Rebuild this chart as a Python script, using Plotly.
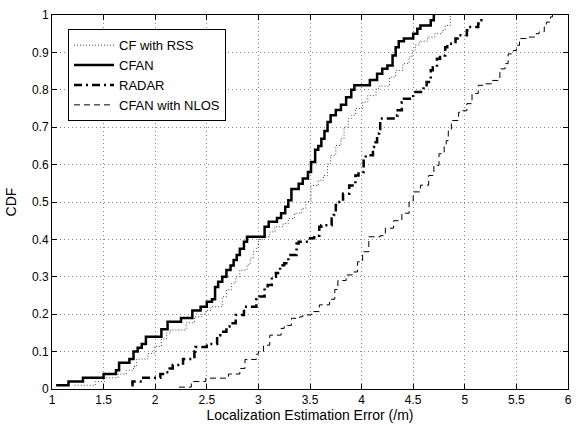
import plotly.graph_objects as go

# CDF step points (x = error in m, y = CDF)
rss_x = [1.22, 1.42, 1.51, 1.64, 1.72, 1.79, 1.82, 1.93, 1.99, 2.06, 2.11, 2.15, 2.30, 2.38,
         2.45, 2.49, 2.54, 2.65, 2.69, 2.74, 2.78, 2.82, 2.89, 2.92, 2.95, 2.98, 3.00, 3.05,
         3.11, 3.16, 3.24, 3.29, 3.35, 3.42, 3.46, 3.51, 3.58, 3.63, 3.67, 3.70, 3.75, 3.80,
         3.83, 3.87, 3.90, 3.94, 4.01, 4.06, 4.14, 4.17, 4.27, 4.33, 4.40, 4.46, 4.49, 4.52,
         4.56, 4.64, 4.71, 4.78, 4.81, 4.86]
rss_y = [0.01, 0.02, 0.03, 0.04, 0.05, 0.06, 0.08, 0.095, 0.114, 0.134, 0.15, 0.158, 0.177, 0.193,
         0.20, 0.21, 0.22, 0.247, 0.265, 0.283, 0.30, 0.318, 0.332, 0.35, 0.367, 0.376, 0.40, 0.407,
         0.42, 0.434, 0.443, 0.456, 0.47, 0.483, 0.501, 0.544, 0.558, 0.571, 0.602, 0.625, 0.651, 0.669,
         0.70, 0.723, 0.732, 0.75, 0.767, 0.785, 0.803, 0.81, 0.834, 0.852, 0.87, 0.888, 0.906, 0.92,
         0.93, 0.941, 0.95, 0.959, 0.972, 1.0]

cfan_x = [1.04, 1.16, 1.30, 1.50, 1.62, 1.65, 1.75, 1.79, 1.83, 1.87, 1.91, 2.06, 2.12, 2.25,
          2.36, 2.44, 2.50, 2.55, 2.58, 2.61, 2.65, 2.69, 2.73, 2.76, 2.79, 2.82, 2.86, 2.89,
          3.06, 3.10, 3.18, 3.22, 3.26, 3.29, 3.32, 3.39, 3.43, 3.48, 3.51, 3.55, 3.58, 3.61,
          3.64, 3.67, 3.70, 3.75, 3.80, 3.85, 3.90, 3.93, 4.08, 4.15, 4.20, 4.25, 4.30, 4.33,
          4.36, 4.41, 4.50, 4.54, 4.57, 4.67, 4.70]
cfan_y = [0.01, 0.02, 0.03, 0.04, 0.05, 0.07, 0.08, 0.10, 0.11, 0.12, 0.14, 0.16, 0.18, 0.19,
          0.21, 0.22, 0.233, 0.24, 0.273, 0.287, 0.30, 0.318, 0.33, 0.345, 0.358, 0.375, 0.394, 0.407,
          0.434, 0.447, 0.457, 0.47, 0.487, 0.505, 0.535, 0.549, 0.563, 0.58, 0.607, 0.64, 0.65, 0.669,
          0.69, 0.714, 0.732, 0.746, 0.76, 0.78, 0.80, 0.812, 0.826, 0.843, 0.856, 0.865, 0.892, 0.914,
          0.93, 0.937, 0.95, 0.963, 0.972, 0.986, 1.0]

radar_x = [1.77, 1.78, 1.87, 2.05, 2.09, 2.14, 2.17, 2.27, 2.38, 2.39, 2.50, 2.60, 2.63, 2.69,
           2.72, 2.78, 2.86, 2.98, 3.01, 3.06, 3.09, 3.13, 3.17, 3.21, 3.25, 3.29, 3.37, 3.39,
           3.50, 3.54, 3.59, 3.61, 3.71, 3.73, 3.75, 3.77, 3.82, 3.88, 3.94, 3.97, 4.02, 4.04,
           4.11, 4.12, 4.15, 4.17, 4.18, 4.33, 4.35, 4.39, 4.41, 4.50, 4.60, 4.63, 4.67, 4.69,
           4.73, 4.76, 4.81, 4.83, 4.91, 4.93, 5.02, 5.04, 5.13, 5.15, 5.16]
radar_y = [0.01, 0.02, 0.03, 0.04, 0.045, 0.055, 0.064, 0.08, 0.10, 0.112, 0.12, 0.144, 0.153, 0.167,
           0.176, 0.198, 0.22, 0.24, 0.247, 0.269, 0.278, 0.30, 0.31, 0.331, 0.336, 0.358, 0.389, 0.394,
           0.403, 0.41, 0.434, 0.438, 0.456, 0.465, 0.492, 0.50, 0.522, 0.544, 0.571, 0.58, 0.616, 0.625,
           0.647, 0.66, 0.683, 0.695, 0.723, 0.731, 0.745, 0.767, 0.776, 0.794, 0.812, 0.821, 0.852, 0.86,
           0.883, 0.892, 0.914, 0.923, 0.937, 0.946, 0.959, 0.968, 0.977, 0.986, 1.0]

nlos_x = [2.23, 2.35, 2.49, 2.71, 2.82, 2.87, 2.98, 3.00, 3.05, 3.11, 3.22, 3.25, 3.32, 3.40,
          3.43, 3.51, 3.53, 3.59, 3.69, 3.74, 3.77, 3.85, 3.91, 3.96, 4.01, 4.07, 4.18, 4.23,
          4.31, 4.39, 4.46, 4.50, 4.57, 4.65, 4.70, 4.75, 4.80, 4.82, 4.84, 4.87, 4.94, 4.97,
          5.02, 5.07, 5.13, 5.18, 5.26, 5.34, 5.39, 5.42, 5.47, 5.50, 5.53, 5.61, 5.69, 5.72,
          5.77, 5.79, 5.83, 5.85]
nlos_y = [0.005, 0.02, 0.029, 0.04, 0.055, 0.079, 0.093, 0.10, 0.117, 0.144, 0.162, 0.17, 0.189, 0.193,
          0.198, 0.20, 0.207, 0.225, 0.24, 0.266, 0.29, 0.305, 0.313, 0.34, 0.367, 0.407, 0.41, 0.43,
          0.45, 0.47, 0.50, 0.527, 0.545, 0.571, 0.598, 0.629, 0.651, 0.664, 0.69, 0.718, 0.74, 0.744,
          0.763, 0.79, 0.812, 0.816, 0.825, 0.856, 0.87, 0.896, 0.905, 0.919, 0.937, 0.941, 0.95, 0.955,
          0.968, 0.981, 0.995, 1.0]

series = [
    ("CF with RSS", rss_x, rss_y, "1px,2px", 1, "#444444"),
    ("CFAN", cfan_x, cfan_y, "solid", 2.5, "black"),
    ("RADAR", radar_x, radar_y, "8px,4px,2px,4px", 2.5, "black"),
    ("CFAN with NLOS", nlos_x, nlos_y, "6px,4px", 1, "black"),
]

fig = go.Figure()
for name, xs, ys, dash, w, col in series:
    fig.add_trace(go.Scatter(
        x=xs, y=ys, mode="lines", name=name, line_shape="hv",
        line=dict(color=col, width=w, dash=dash),
    ))

axis_style = dict(
    showline=True, linecolor="black", linewidth=1, mirror="ticks",
    ticks="inside", ticklen=5, tickcolor="black",
    showgrid=True, gridcolor="#8a8a8a", griddash="1px,3px", gridwidth=1,
    zeroline=False, tickfont=dict(size=12, color="black"),
)

fig.update_layout(
    width=576, height=425,
    margin=dict(l=52, r=4, t=15, b=36),
    paper_bgcolor="white", plot_bgcolor="white",
    font=dict(family="Liberation Sans, Arial, sans-serif", size=12, color="black"),
    xaxis=dict(range=[1, 6], dtick=0.5, title=dict(text="Localization Estimation Error (/m)", standoff=1), **axis_style),
    yaxis=dict(range=[0, 1], dtick=0.1, title=dict(text="CDF", standoff=12), **axis_style),
    legend=dict(x=0.031, y=0.962, xanchor="left", yanchor="top",
                bordercolor="black", borderwidth=1, bgcolor="white",
                font=dict(size=13), itemwidth=40, tracegroupgap=0),
    showlegend=True,
)

# page has a default 8px body margin; remove it so the figure fills the window
fig.write_html("out.html", config={"displayModeBar": False},
               post_script="document.body.style.margin='0';")
